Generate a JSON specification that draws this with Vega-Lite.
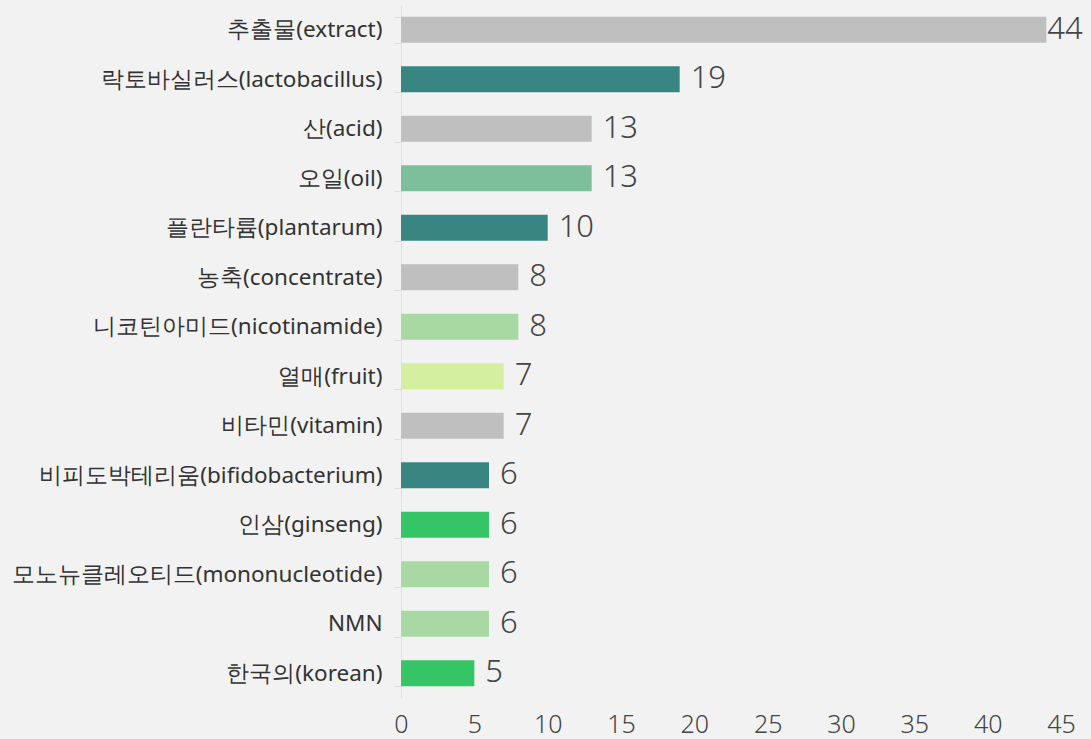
{
  "$schema": "https://vega.github.io/schema/vega-lite/v6.json",
  "width": 660,
  "height": 693,
  "autosize": "none",
  "padding": {"left": 401, "top": 5, "right": 30, "bottom": 41},
  "background": "#f2f2f2",
  "config": {"view": {"stroke": null}, "font": "Noto Sans"},
  "data": {"values": [
    {"term": "추출물(extract)", "count": 44, "color": "#bfbfbf"},
    {"term": "락토바실러스(lactobacillus)", "count": 19, "color": "#388581"},
    {"term": "산(acid)", "count": 13, "color": "#bfbfbf"},
    {"term": "오일(oil)", "count": 13, "color": "#7dbf9b"},
    {"term": "플란타륨(plantarum)", "count": 10, "color": "#388581"},
    {"term": "농축(concentrate)", "count": 8, "color": "#bfbfbf"},
    {"term": "니코틴아미드(nicotinamide)", "count": 8, "color": "#a8d9a3"},
    {"term": "열매(fruit)", "count": 7, "color": "#d5efa0"},
    {"term": "비타민(vitamin)", "count": 7, "color": "#bfbfbf"},
    {"term": "비피도박테리움(bifidobacterium)", "count": 6, "color": "#388581"},
    {"term": "인삼(ginseng)", "count": 6, "color": "#36c566"},
    {"term": "모노뉴클레오티드(mononucleotide)", "count": 6, "color": "#a8d9a3"},
    {"term": "NMN", "count": 6, "color": "#a8d9a3"},
    {"term": "한국의(korean)", "count": 5, "color": "#36c566"}
  ]},
  "encoding": {
    "y": {"field": "term", "type": "nominal", "sort": null,
      "scale": {"paddingInner": 0.47, "paddingOuter": 0.235},
      "axis": {"title": null, "labelFontSize": 22.5, "labelColor": "#333333", "labelPadding": 12,
        "domainColor": "#e2e2e2", "tickColor": "#dddddd", "tickBand": "extent", "tickSize": 7, "labelLimit": 400}},
    "x": {"field": "count", "type": "quantitative",
      "scale": {"domain": [0, 45], "nice": false},
      "axis": {"title": null, "grid": false, "domain": false, "ticks": false, "values": [0,5,10,15,20,25,30,35,40,45],
        "labelFlush": false, "labelFontSize": 25, "labelColor": "#444444", "labelPadding": 14, "labelFontWeight": 300}}
  },
  "layer": [
    {"mark": {"type": "bar"}, "encoding": {"color": {"field": "color", "type": "nominal", "scale": null}}},
    {"transform": [{"filter": "datum.count < 40"}],
      "mark": {"type": "text", "align": "left", "dx": 11, "fontSize": 31, "fontWeight": 300, "color": "#444444"},
      "encoding": {"text": {"field": "count", "type": "quantitative"}}},
    {"transform": [{"filter": "datum.count >= 40"}],
      "mark": {"type": "text", "align": "left", "dx": 1, "fontSize": 31, "fontWeight": 300, "color": "#444444"},
      "encoding": {"text": {"field": "count", "type": "quantitative"}}}
  ]
}
